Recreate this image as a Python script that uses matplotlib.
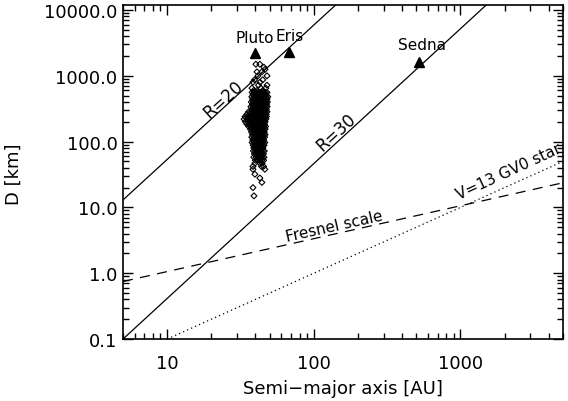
import matplotlib
matplotlib.use('Agg')
import matplotlib.pyplot as plt
from matplotlib.ticker import FixedLocator, NullFormatter, LogLocator

# reference lines (end points)
r20_a = [5, 141]
r20_d = [13, 11900]
r30_a = [5, 1500]
r30_d = [0.1, 11900]
fresnel_a = [5, 5000]
fresnel_d = [0.75, 23.7]
star_a = [10, 5000]
star_d = [0.1, 50]

# named objects
named = ['Pluto', 'Eris', 'Sedna']
named_a = [39.7, 67.6, 518]
named_d = [2256, 2330, 1600]

# KBO sample, estimated row by row from the scatter (diameter, semi-major axes)
kbo_row_d = [1500, 1350, 1250, 1150, 1000, 870, 800, 720, 650, 600,
             560, 520, 480, 440, 400, 370, 340, 310, 285, 260,
             240, 220, 200, 185, 170, 155, 140, 128, 117, 106,
             97, 88, 80, 72, 65, 58, 52, 47, 42, 38,
             32, 28, 24, 20, 15]
kbo_row_a = [
    [40.3, 42.9], [45.7], [46.5], [44.3, 41.0], [41.6, 48.0],
    [44.9, 39.5], [38.5, 43.0], [48.0, 42.0], [47.1, 37.9, 43.5], [41.0, 45.0, 39.0],
    [38.0, 39.2, 40.5, 41.8, 43.0, 44.2, 45.5, 46.8, 48.0],
    [38.5, 39.7, 41.0, 42.2, 43.5, 44.6, 45.9, 47.2],
    [37.8, 39.0, 40.2, 41.4, 42.6, 43.8, 45.0, 46.2, 47.5, 48.6],
    [38.3, 39.5, 40.7, 41.9, 43.1, 44.3, 45.5, 46.7, 48.0],
    [37.5, 38.7, 39.9, 41.1, 42.3, 43.5, 44.7, 45.9, 47.1, 48.3],
    [38.1, 39.3, 40.5, 41.7, 42.9, 44.1, 45.3, 46.5, 47.7],
    [37.3, 38.5, 39.7, 40.9, 42.1, 43.3, 44.5, 45.7, 46.9, 48.1],
    [37.9, 39.1, 40.3, 41.5, 42.7, 43.9, 45.1, 46.3, 47.5],
    [36.0, 37.2, 38.4, 39.6, 40.8, 42.0, 43.2, 44.4, 45.6, 46.8, 48.0],
    [35.0, 36.5, 37.8, 39.0, 40.2, 41.4, 42.6, 43.8, 45.0, 46.2, 47.4],
    [34.0, 35.5, 36.8, 38.0, 39.2, 40.4, 41.6, 42.8, 44.0, 45.2, 46.4, 47.6],
    [33.5, 35.0, 36.3, 37.6, 38.8, 40.0, 41.2, 42.4, 43.6, 44.8, 46.0, 47.2],
    [34.2, 35.7, 37.0, 38.2, 39.4, 40.6, 41.8, 43.0, 44.2, 45.4, 46.6],
    [35.0, 36.4, 37.7, 38.9, 40.1, 41.3, 42.5, 43.7, 44.9, 46.1],
    [36.0, 37.3, 38.5, 39.7, 40.9, 42.1, 43.3, 44.5, 45.7, 46.9],
    [37.0, 38.2, 39.4, 40.6, 41.8, 43.0, 44.2, 45.4, 46.6],
    [37.6, 38.8, 40.0, 41.2, 42.4, 43.6, 44.8, 46.0],
    [38.2, 39.4, 40.6, 41.8, 43.0, 44.2, 45.4, 46.6],
    [37.8, 39.0, 40.2, 41.4, 42.6, 43.8, 45.0, 46.2],
    [38.4, 39.6, 40.8, 42.0, 43.2, 44.4, 45.6],
    [38.0, 39.2, 40.4, 41.6, 42.8, 44.0, 45.2, 46.4],
    [38.6, 39.8, 41.0, 42.2, 43.4, 44.6, 45.8],
    [39.0, 40.2, 41.4, 42.6, 43.8, 45.0],
    [38.8, 40.0, 41.2, 42.4, 43.6, 44.8, 46.0],
    [39.4, 40.6, 41.8, 43.0, 44.2, 45.4],
    [39.0, 40.4, 41.8, 43.2, 44.6, 45.8],
    [40.0, 41.4, 42.8, 44.2, 45.5],
    [39.7, 43.0, 44.5], [38.5, 44.0, 45.5], [38.5, 46.4],
    [39.7], [42.9], [44.3], [38.5], [39.1],
]


def main():
    kbo_a = []
    kbo_d = []
    for d, row in zip(kbo_row_d, kbo_row_a):
        kbo_a.extend(row)
        kbo_d.extend([d] * len(row))

    plt.rcParams['font.family'] = 'DejaVu Sans'
    fig = plt.figure(figsize=(5.68, 4.02), dpi=100)
    ax = fig.add_axes([0.2165, 0.154, 0.7745, 0.831])
    ax.set_xscale('log')
    ax.set_yscale('log')
    ax.set_xlim(5, 5000)
    ax.set_ylim(0.1, 11900)

    ax.plot(r20_a, r20_d, color='black', lw=0.9)
    ax.plot(r30_a, r30_d, color='black', lw=0.9)
    ax.plot(fresnel_a, fresnel_d, color='black', lw=0.9, linestyle=(0, (8, 6)))
    ax.plot(star_a, star_d, color='black', lw=0.9, linestyle=(0, (1, 2.5)))

    ax.scatter(kbo_a, kbo_d, marker='D', s=9, facecolors='none',
               edgecolors='black', linewidths=0.8, zorder=3)
    ax.plot(named_a, named_d, '^', color='black', ms=6.5, zorder=4)

    fs = 12
    ax.text(39.7, 3800, 'Pluto', ha='center', va='center', fontsize=11)
    ax.text(68, 4100, 'Eris', ha='center', va='center', fontsize=11)
    ax.text(543, 2980, 'Sedna', ha='center', va='center', fontsize=11)
    ax.text(24, 443, 'R=20', rotation=42, ha='center', va='center', fontsize=fs)
    ax.text(143, 141, 'R=30', rotation=42.5, ha='center', va='center', fontsize=fs)
    ax.text(139, 5.2, 'Fresnel scale', rotation=12.6, ha='center', va='center', fontsize=11)
    t = ax.text(2150, 36, 'V=13 GV0 star', rotation=24.8, ha='center', va='center', fontsize=11)
    t.set_clip_on(True)

    ax.xaxis.set_major_locator(FixedLocator([10, 100, 1000]))
    ax.set_xticklabels(['10', '100', '1000'])
    ax.xaxis.set_minor_locator(LogLocator(base=10, subs=range(2, 10)))
    ax.xaxis.set_minor_formatter(NullFormatter())
    ax.yaxis.set_major_locator(FixedLocator([0.1, 1, 10, 100, 1000, 10000]))
    ax.set_yticklabels(['0.1', '1.0', '10.0', '100.0', '1000.0', '10000.0'])
    ax.yaxis.set_minor_locator(LogLocator(base=10, subs=range(2, 10)))
    ax.yaxis.set_minor_formatter(NullFormatter())

    ax.tick_params(which='both', direction='in', top=True, right=True,
                   labelsize=13, width=1)
    ax.tick_params(which='major', length=7)
    ax.tick_params(which='minor', length=4)
    ax.tick_params(axis='x', which='major', pad=11)
    ax.tick_params(axis='y', which='major', pad=4)
    for s in ax.spines.values():
        s.set_linewidth(1.2)

    ax.set_xlabel('Semi\u2212major axis [AU]', fontsize=13)
    ax.set_ylabel('D [km]', fontsize=13)
    ax.xaxis.set_label_coords(0.5, -0.12)
    ax.yaxis.set_label_coords(-0.227, 0.497)

    fig.savefig('out.png', dpi=100)


if __name__ == '__main__':
    main()
